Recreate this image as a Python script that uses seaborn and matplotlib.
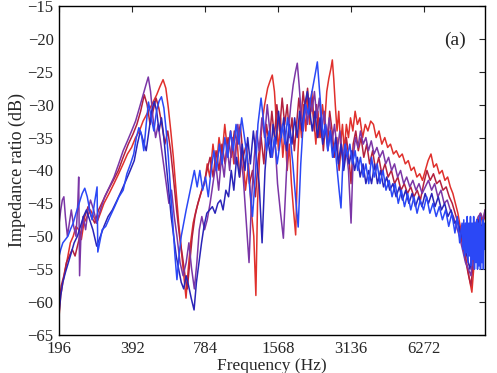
import numpy as np
import pandas as pd
import matplotlib
matplotlib.use("Agg")
import matplotlib.pyplot as plt
import seaborn as sns

# (frequency Hz, impedance ratio dB), one list per curve
red = [(196,-62),(199,-59),(203,-57),(208,-55),(213,-53),(218,-51),(224,-50),(230,-48.5),(236,-49),(242,-50.5),
       (248,-48),(256,-47),(264,-46),(272,-47),(280,-48),(290,-46.5),(300,-45),(315,-43.5),(330,-42),(345,-40.5),
       (360,-39),(375,-37.5),(390,-36.5),(405,-35),(420,-34),(435,-32.5),(450,-31.5),(465,-30.5),(480,-29.5),(495,-28.5),
       (510,-27.3),(526,-26.2),(540,-27.5),(553,-30.5),(566,-34),(580,-38),(595,-43),(610,-48),(625,-52),(640,-56),
       (654,-59.4),(668,-55),(683,-51),(700,-48),(720,-46),(740,-44.5),(760,-43),(780,-42),(800,-39),(820,-41),
       (845,-36),(870,-40),(895,-35),(920,-38),(945,-33),(970,-37),(1000,-34),(1030,-39),(1060,-35),(1090,-41),
       (1120,-37),(1150,-43),(1185,-39),(1215,-46),(1245,-50),(1270,-59),(1290,-45),(1315,-38),(1345,-33),(1380,-30),
       (1420,-27.5),(1450,-26.5),(1484,-25.5),(1515,-28),(1545,-33),(1575,-37),(1605,-32),(1640,-38),(1675,-34),(1710,-40),
       (1745,-36),(1780,-42),(1815,-46),(1853,-49.8),(1890,-38),(1925,-32),(1960,-35),(2000,-30),(2040,-34),(2080,-29),
       (2120,-33),(2160,-28),(2200,-32),(2245,-36),(2290,-31),(2340,-35),(2390,-30),(2440,-33),(2490,-28),(2540,-26),
       (2590,-24.5),(2625,-23.2),(2660,-26),(2700,-30),(2745,-34),(2790,-31),(2840,-36),(2890,-33),(2940,-37),(3000,-33),
       (3060,-35),(3120,-32),(3190,-34),(3260,-31),(3330,-33),(3410,-32),(3500,-35),(3590,-33),(3680,-34),(3780,-32.5),
       (3880,-33),(3980,-35),(4090,-34),(4200,-36),(4320,-35),(4440,-36.5),(4560,-36),(4690,-37.5),(4820,-37),(4960,-38),
       (5100,-37.5),(5250,-39),(5400,-38.5),(5550,-40),(5700,-39.5),(5860,-41),(6020,-40.5),(6180,-41.5),(6350,-40),(6520,-38.5),
       (6700,-37.5),(6880,-39.5),(7060,-39),(7250,-40.5),(7450,-40),(7650,-41.5),(7850,-41),(8050,-42.5),(8250,-43.5),(8450,-45),
       (8650,-46.5),(8850,-48.5),(9050,-50.5),(9250,-52.5),(9450,-54.5),(9650,-56.5),(9880,-58.5),(10050,-55),(10250,-51),(10450,-49),
       (10650,-48),(10850,-49),(11050,-47.5),(11200,-47)]

dark_red = [(196,-60),(200,-57.5),(205,-56),(210,-54),(216,-53),(222,-52),(228,-53),(235,-51),(242,-49),(250,-47),
            (258,-45.5),(266,-47),(275,-48),(285,-46),(298,-44.5),(312,-43),(328,-41.5),(344,-40),(360,-38),(378,-36),
            (395,-34.5),(410,-33),(425,-31),(440,-28.5),(452,-30),(465,-33),(478,-31),(492,-29),(505,-30.5),(520,-33),
            (535,-36),(550,-34),(565,-37),(580,-41),(598,-46),(615,-50),(632,-53),(648,-56),(662,-58),(678,-54),
            (694,-50),(712,-47),(732,-45),(752,-43.5),(775,-42),(798,-40),(822,-38),(846,-41),(870,-37),(895,-40),
            (920,-36),(948,-39),(975,-35),(1005,-38),(1035,-34),(1065,-36),(1095,-33),(1125,-38),(1160,-36),(1195,-42),
            (1230,-40),(1265,-44),(1300,-38),(1335,-35),(1370,-39),(1405,-33),(1440,-36),(1478,-31),(1515,-35),(1550,-30),
            (1590,-34),(1630,-29),(1670,-33),(1710,-30),(1750,-35),(1790,-32),(1830,-37),(1870,-33),(1910,-29),(1950,-32),
            (1990,-28),(2030,-31),(2075,-27.5),(2120,-32),(2165,-29),(2210,-34),(2260,-30),(2310,-35),(2360,-32),(2410,-37),
            (2460,-33),(2510,-36),(2560,-31),(2620,-34),(2680,-38),(2740,-35),(2800,-40),(2860,-36),(2930,-39),(3000,-35),
            (3070,-38),(3136,-42),(3200,-36),(3280,-34),(3360,-37),(3450,-35),(3540,-38),(3640,-36),(3740,-39),(3850,-37),
            (3960,-40),(4080,-38),(4200,-40.5),(4330,-39),(4460,-41),(4600,-40),(4740,-42),(4890,-41),(5040,-43),(5200,-42),
            (5360,-43.5),(5530,-42.5),(5700,-44),(5880,-43),(6060,-44.5),(6250,-42),(6450,-40),(6650,-41.5),(6860,-40.5),(7070,-42),
            (7290,-41.5),(7510,-43),(7740,-42.5),(7970,-44),(8200,-45),(8430,-46.5),(8660,-48),(8890,-50),(9120,-52),(9350,-54),
            (9580,-56),(9800,-57.5),(10000,-54),(10200,-50),(10450,-48),(10700,-46.5),(10950,-48),(11200,-46)]

purple = [(196,-48),(199,-46),(202,-44.5),(205,-44),(208,-47),(212,-50),(216,-48),(220,-46),(225,-48.5),(230,-50),
          (234,-45),(236,-41),(238,-56),(241,-50),(246,-47),(252,-49),(258,-46),(264,-44.5),(272,-46),(280,-48),
          (290,-46),(302,-44),(316,-42.5),(330,-41),(345,-39),(360,-37),(375,-35.5),(390,-34),(405,-32.5),(420,-30.5),
          (435,-28.5),(447,-27),(457,-25.8),(467,-28),(478,-32),(490,-35),(502,-33),(515,-36),(528,-39),(542,-42),
          (556,-45),(570,-43),(585,-47),(600,-50),(618,-54),(636,-56),(655,-54),(672,-51),(690,-55),(708,-58),
          (725,-54),(742,-49),(760,-47),(780,-49),(800,-47.5),(822,-45),(845,-42),(868,-39),(892,-43),(916,-38),
          (940,-41),(965,-36),(990,-40),(1015,-35),(1042,-39),(1070,-33),(1098,-37),(1126,-41),(1155,-47),(1190,-54),
          (1220,-44),(1250,-38),(1280,-34),(1310,-37),(1345,-32),(1380,-35),(1415,-30),(1450,-34),(1485,-38),(1520,-35),
          (1560,-42),(1600,-46),(1649,-50.3),(1690,-42),(1730,-34),(1770,-30),(1810,-27),(1850,-25),(1882,-23.7),(1915,-27),
          (1950,-31),(1990,-34),(2030,-30),(2075,-33),(2120,-29),(2165,-31),(2215,-28),(2265,-32),(2320,-29),(2375,-34),
          (2430,-31),(2490,-35),(2550,-32),(2610,-36),(2680,-33),(2750,-37),(2820,-34),(2900,-38),(2980,-36),(3060,-40),
          (3136,-48),(3200,-38),(3270,-35),(3350,-36.5),(3430,-34),(3520,-36),(3610,-35),(3700,-37),(3800,-35.5),(3900,-37.5),
          (4010,-36.5),(4120,-38),(4240,-37),(4360,-39),(4480,-38),(4610,-40),(4740,-39),(4880,-41),(5020,-40),(5170,-42),
          (5320,-41),(5480,-42.5),(5640,-41.5),(5810,-43),(5980,-42),(6160,-43.5),(6350,-42.5),(6540,-41.5),(6740,-43),(6940,-42),
          (7150,-44),(7370,-43),(7590,-45),(7820,-44.5),(8050,-46),(8290,-47),(8530,-48.5),(8780,-50),(9040,-52),(9300,-54),
          (9560,-55),(9800,-56),(10000,-52),(10250,-48),(10500,-47),(10750,-46.5),(11000,-47.5),(11200,-46)]

navy = [(196,-61.5),(199,-59),(203,-57),(208,-55.5),(214,-54),(220,-52.5),(226,-51),(233,-50),(240,-48.5),(247,-47),
        (254,-46),(262,-47.5),(270,-49),(280,-51.5),(290,-50),(300,-48.5),(312,-47),(325,-46),(340,-44.5),(355,-43),
        (370,-41.5),(385,-40),(400,-38.5),(412,-36),(424,-34),(436,-35.5),(448,-37),(460,-34),(472,-31),(484,-29.5),
        (495,-31),(506,-34),(518,-32),(530,-35),(542,-39),(555,-43),(568,-47),(582,-50),(596,-53),(610,-55),
        (625,-57),(640,-58),(655,-56),(670,-57.5),(688,-59.5),(706,-61.2),(722,-57),(740,-54),(758,-51),(776,-48.5),
        (797,-46.5),(818,-46),(840,-45.5),(862,-46.5),(885,-45),(908,-44.5),(930,-46),(955,-43),(980,-44),(1005,-40),
        (1030,-43),(1058,-38),(1086,-41),(1115,-36),(1145,-40),(1175,-35),(1205,-39),(1240,-34),(1275,-38),(1310,-42),
        (1347,-51),(1385,-40),(1420,-35),(1458,-38),(1495,-33),(1535,-36),(1575,-31),(1615,-35),(1655,-32),(1700,-37),
        (1745,-33),(1790,-36),(1835,-32),(1880,-35),(1925,-31),(1970,-34),(2020,-30),(2070,-28),(2120,-31),(2170,-34),
        (2225,-31),(2280,-35),(2335,-32),(2395,-36),(2455,-33),(2515,-37),(2580,-34),(2645,-38),(2710,-35),(2780,-39),
        (2850,-36),(2925,-40),(3000,-37),(3080,-39),(3160,-37),(3245,-40),(3330,-38),(3420,-41),(3515,-39),(3610,-42),
        (3710,-40),(3810,-42),(3920,-39),(4030,-42),(4150,-40),(4270,-42.5),(4400,-41),(4530,-43),(4670,-42),(4810,-44),
        (4960,-42.5),(5110,-44.5),(5270,-43),(5430,-45),(5600,-43.5),(5780,-45.5),(5960,-44),(6150,-45.5),(6340,-43.5),(6540,-45),
        (6750,-43.5),(6960,-45.5),(7180,-44),(7400,-46),(7630,-45),(7870,-47),(8110,-46),(8360,-48),(8620,-47.5),(8880,-49.5),
        (9150,-51),(9420,-53),(9700,-55),(9950,-52),(10200,-49),(10450,-47.5),(10700,-50),(10950,-47.5),(11200,-49)]

blue = [(196,-53),(199,-52),(203,-51),(208,-50.5),(213,-50),(218,-49),(224,-48),(230,-46.5),(237,-45),(244,-43.5),
        (250,-42.7),(256,-44),(262,-46),(268,-47.5),(274,-45),(281,-42.5),(283,-52.4),(288,-51),(295,-49),(305,-48.5),
        (318,-47),(332,-45.5),(346,-44),(360,-43),(373,-40.5),(386,-39),(398,-37.5),(408,-35),(418,-33.5),(428,-34.5),
        (438,-37),(448,-33),(458,-29.6),(470,-32),(482,-34),(494,-31),(506,-29.5),(518,-28.8),(530,-30.5),(542,-34),
        (553,-38),(565,-43),(577,-48),(589,-53),(600,-56.6),(612,-53),(625,-50),(640,-48),(655,-46),(672,-44),
        (690,-42),(708,-40),(727,-42.5),(746,-40),(766,-43),(787,-41),(808,-44),(830,-40),(852,-37),(875,-40),
        (898,-36),(922,-39),(946,-35),(972,-38),(998,-34),(1025,-37),(1052,-33),(1080,-36),(1110,-32),(1140,-35),
        (1170,-38),(1200,-43),(1230,-47),(1262,-41),(1295,-33),(1334,-29),(1370,-33),(1405,-37),(1440,-34),(1478,-38),
        (1515,-35),(1555,-39),(1595,-36),(1635,-33),(1675,-36),(1715,-32),(1760,-35),(1805,-39),(1850,-44),(1898,-48.6),
        (1945,-39),(1990,-33),(2040,-30),(2090,-31.5),(2140,-29),(2190,-27),(2240,-25),(2277,-23.5),(2315,-27),(2360,-31),
        (2410,-35),(2460,-33),(2515,-37),(2570,-34),(2630,-38),(2690,-36),(2750,-40),(2800,-43),(2850,-45.7),(2900,-39),
        (2960,-36),(3030,-38),(3100,-36),(3180,-39),(3260,-37),(3340,-40),(3430,-38),(3520,-41),(3610,-39),(3710,-42),
        (3810,-38),(3910,-41),(4020,-39),(4130,-42),(4250,-40),(4370,-43),(4500,-41.5),(4630,-44),(4770,-42),(4910,-45),
        (5060,-43),(5210,-45.5),(5370,-43.5),(5530,-46),(5700,-44),(5870,-46.5),(6050,-44.5),(6240,-46),(6430,-44),(6630,-46.5),
        (6830,-45),(7040,-47),(7250,-45.5),(7470,-47.5),(7700,-46),(7930,-48.5),(8170,-46.5),(8410,-49.5),(8600,-47),(8800,-51),
        (9000,-48),(9075,-52),(9150,-47.5),(9225,-53),(9300,-48),(9375,-52.5),(9450,-47),(9525,-54),(9600,-48),(9675,-53),
        (9750,-47),(9825,-54.5),(9900,-48),(9975,-53.5),(10050,-47),(10125,-55),(10200,-48),(10275,-54),(10350,-47.5),(10425,-55),
        (10500,-48),(10575,-54.5),(10650,-47),(10725,-55),(10800,-48.5),(10875,-54),(10950,-47.5),(11025,-55),(11100,-48),(11200,-52)]

curves = [(red, "#e0302c"), (dark_red, "#b3203e"), (purple, "#7b36a6"), (navy, "#2a24b8"), (blue, "#2b48f6")]

freq_ticks = [196, 392, 784, 1568, 3136, 6272]
y_ticks = list(range(-65, -14, 5))

sns.set_style("white")
plt.rcParams["font.family"] = ["Liberation Serif", "DejaVu Serif"]
plt.rcParams["axes.unicode_minus"] = True

fig = plt.figure(figsize=(4.97, 3.73), dpi=100)
ax = fig.add_axes([0.119, 0.102, 0.857, 0.882])

for pts, color in curves:
    df = pd.DataFrame(pts, columns=["f", "db"])
    sns.lineplot(data=df, x="f", y="db", ax=ax, color=color, lw=1.1,
                 sort=False, estimator=None)

ax.set_xscale("log", base=2)
ax.set_xlim(196, 11200)
ax.set_ylim(-65, -15)
ax.set_xticks(freq_ticks)
ax.set_xticklabels([str(t) for t in freq_ticks])
ax.minorticks_off()
ax.set_yticks(y_ticks)
ax.set_yticklabels([f"\u2212{abs(t)}" for t in y_ticks])
ax.tick_params(direction="in", top=True, right=True, length=4, labelsize=12)
ax.tick_params(axis="x", pad=4)
ax.tick_params(axis="y", pad=4)
for s in ax.spines.values():
    s.set_linewidth(1.0)
    s.set_color("black")
ax.set_xlabel("Frequency (Hz)", fontsize=12.5, labelpad=1)
ax.set_ylabel("Impedance ratio (dB)", fontsize=13, labelpad=1)
ax.text(0.93, 0.895, "(a)", transform=ax.transAxes, fontsize=14, ha="center", va="center")

fig.savefig("out.png", dpi=100)
